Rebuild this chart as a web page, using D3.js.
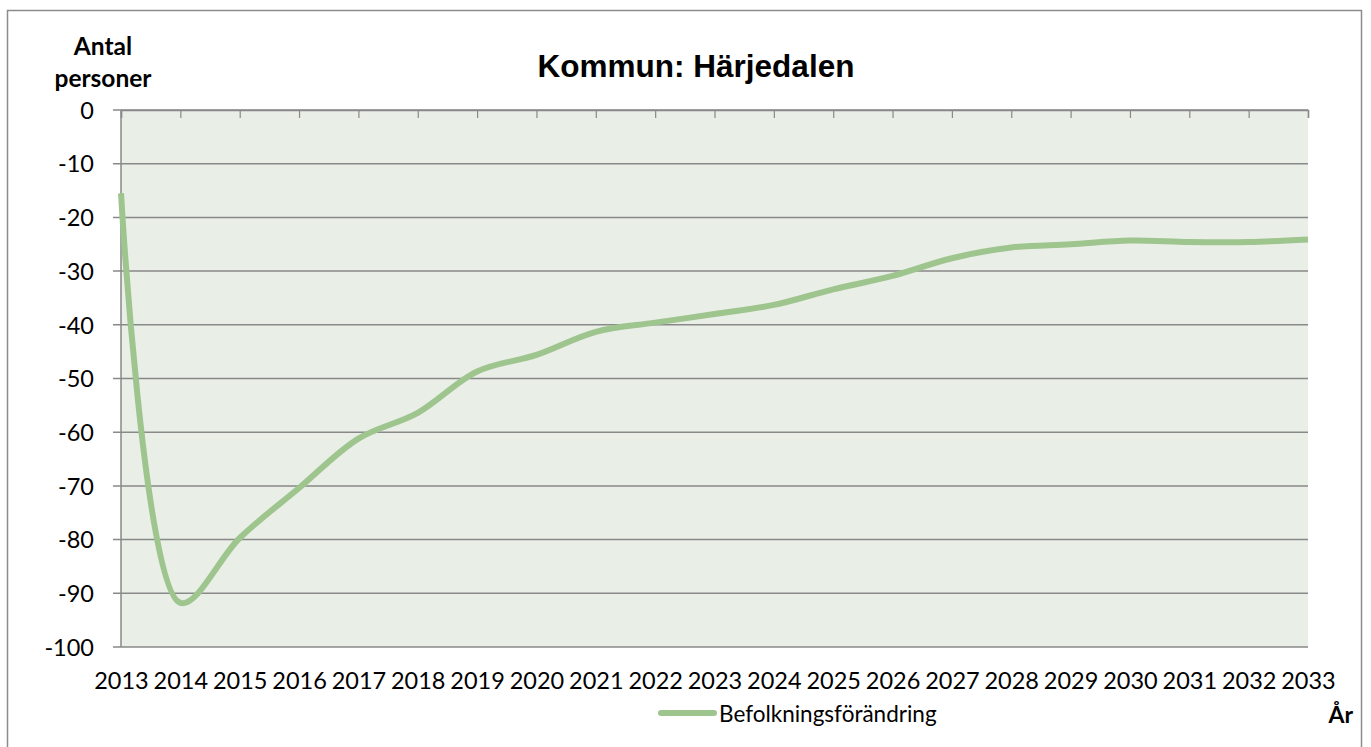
<!DOCTYPE html>
<html>
<head>
<meta charset="utf-8">
<script src="https://cdn.jsdelivr.net/npm/d3@7"></script>
<style>
  html, body { margin: 0; padding: 0; background: #ffffff; }
  svg { display: block; }
</style>
</head>
<body>
<svg id="chart" width="1371" height="747"></svg>
<script>
const years = ["2013","2014","2015","2016","2017","2018","2019","2020","2021","2022","2023",
               "2024","2025","2026","2027","2028","2029","2030","2031","2032","2033"];
const values = [-15.5, -91.8, -79.7, -70.4, -61.2, -56.4, -48.7, -45.6, -41.3, -39.6, -38.0,
                -36.3, -33.4, -30.9, -27.6, -25.6, -25.0, -24.3, -24.6, -24.6, -24.1];
const yTicks = [0, -10, -20, -30, -40, -50, -60, -70, -80, -90, -100];
const title = "Kommun: Härjedalen";
const yTitle = ["Antal", "personer"];
const xTitle = "År";
const seriesName = "Befolkningsförändring";

const svg = d3.select("#chart");
const plot = { left: 121, right: 1308, top: 110, bottom: 647 };
const lineColor = "#9fc58f";
const gridColor = "#898989";
const tickFont = "Lato, 'Open Sans', sans-serif";

// outer border
svg.append("rect")
  .attr("x", 7.5).attr("y", 10.5)
  .attr("width", 1354).attr("height", 760)
  .attr("fill", "#fff").attr("stroke", "#8c8c8c").attr("stroke-width", 1.5);

const x = d3.scalePoint().domain(years).range([plot.left, plot.right]);
const y = d3.scaleLinear().domain([-100, 0]).range([plot.bottom, plot.top]);

// plot background
svg.append("rect")
  .attr("x", plot.left).attr("y", plot.top)
  .attr("width", plot.right - plot.left).attr("height", plot.bottom - plot.top)
  .attr("fill", "#e9eee6");

// gridlines
svg.append("g").selectAll("line").data(yTicks).join("line")
  .attr("x1", plot.left - 8).attr("x2", plot.right)
  .attr("y1", d => y(d)).attr("y2", d => y(d))
  .attr("stroke", gridColor).attr("stroke-width", 1.5);

// y axis
const yAxis = d3.axisLeft(y).tickValues(yTicks).tickSize(0).tickPadding(0)
  .tickFormat(d => String(d));
const gy = svg.append("g").attr("transform", `translate(94,0)`).call(yAxis);
gy.select(".domain").remove();
gy.selectAll("text")
  .attr("font-family", tickFont).attr("font-size", 23.5).attr("fill", "#000")
  .attr("x", 0).attr("dy", "0.35em");

svg.append("line")
  .attr("x1", plot.left).attr("x2", plot.left)
  .attr("y1", plot.top).attr("y2", plot.bottom)
  .attr("stroke", gridColor).attr("stroke-width", 1.5);

// x axis ticks at the zero line (top)
const xAxisTop = d3.axisBottom(x).tickSize(8).tickFormat("");
const gxt = svg.append("g").attr("transform", `translate(0,${y(0)})`).call(xAxisTop);
gxt.select(".domain").attr("stroke", gridColor).attr("stroke-width", 1.5);
gxt.selectAll(".tick line").attr("stroke", gridColor).attr("stroke-width", 1.2);

// x tick labels at bottom
const xAxisBottom = d3.axisBottom(x).tickSize(0).tickPadding(0);
const gxb = svg.append("g").attr("transform", `translate(0,689)`).call(xAxisBottom);
gxb.select(".domain").remove();
gxb.selectAll("text")
  .attr("font-family", tickFont).attr("font-size", 23.5).attr("fill", "#000")
  .attr("y", 0).attr("dy", 0);

// series line
const line = d3.line()
  .x((d, i) => x(years[i]))
  .y(d => y(d))
  .curve(d3.curveCatmullRom.alpha(0.5));
svg.append("path")
  .datum(values)
  .attr("d", line)
  .attr("fill", "none")
  .attr("stroke", lineColor)
  .attr("stroke-width", 6)
  .attr("stroke-linejoin", "round");

// title
svg.append("text")
  .attr("x", 696).attr("y", 77)
  .attr("text-anchor", "middle")
  .attr("font-family", "'Liberation Sans', Arial, sans-serif")
  .attr("font-weight", "bold").attr("font-size", 31.5)
  .text(title);

// y title
svg.append("g").selectAll("text").data(yTitle).join("text")
  .attr("x", 103).attr("y", (d, i) => 55 + i * 32)
  .attr("text-anchor", "middle")
  .attr("font-family", tickFont).attr("font-weight", "bold").attr("font-size", 24.5)
  .text(d => d);

// x title
svg.append("text")
  .attr("x", 1353).attr("y", 723)
  .attr("text-anchor", "end")
  .attr("font-family", tickFont).attr("font-weight", "bold").attr("font-size", 23)
  .text(xTitle);

// legend
const lg = svg.append("g");
lg.append("line")
  .attr("x1", 661).attr("x2", 714).attr("y1", 713).attr("y2", 713)
  .attr("stroke", lineColor).attr("stroke-width", 6).attr("stroke-linecap", "round");
lg.append("text")
  .attr("x", 719).attr("y", 722)
  .attr("font-family", tickFont).attr("font-size", 22.5).attr("fill", "#000")
  .text(seriesName);
</script>
</body>
</html>
